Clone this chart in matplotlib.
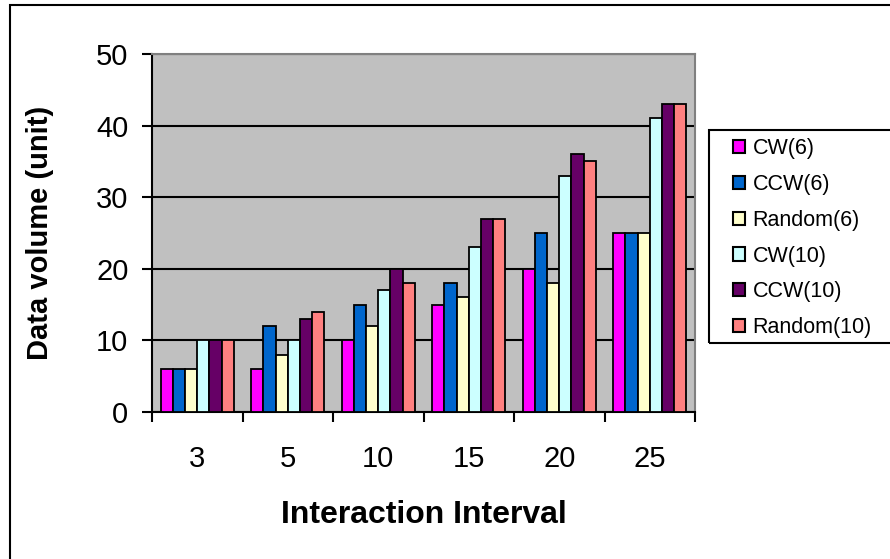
import matplotlib
matplotlib.use("Agg")
import matplotlib.pyplot as plt
import numpy as np
from matplotlib.patches import Rectangle

plt.rcParams['font.family'] = ['Liberation Sans', 'DejaVu Sans']

categories = ["3", "5", "10", "15", "20", "25"]
series_names = ["CW(6)", "CCW(6)", "Random(6)", "CW(10)", "CCW(10)", "Random(10)"]
cw6 = [6, 6, 10, 15, 20, 25]
ccw6 = [6, 12, 15, 18, 25, 25]
random6 = [6, 8, 12, 16, 18, 25]
cw10 = [10, 10, 17, 23, 33, 41]
ccw10 = [10, 13, 20, 27, 36, 43]
random10 = [10, 14, 18, 27, 35, 43]
series = [cw6, ccw6, random6, cw10, ccw10, random10]
colors = ["#FF00FF", "#0066CC", "#FFFFCC", "#CCFFFF", "#660066", "#FF8080"]

W, H = 890, 559
fig = plt.figure(figsize=(W/100, H/100), dpi=100)
ax = fig.add_axes([152/W, 1-412/H, (695-152)/W, (412-54)/H])
ax.set_facecolor("#C0C0C0")

n = len(series)
x = np.arange(len(categories))
total = 0.81
w = total / n
for i, (vals, c, name) in enumerate(zip(series, colors, series_names)):
    ax.bar(x - total/2 + w * (i + 0.5), vals, width=w, color=c, edgecolor="black",
           linewidth=1.3, label=name, zorder=3)

ax.set_xlim(-0.5, len(categories) - 0.5)
ax.set_ylim(0, 50)
ax.set_yticks(range(0, 51, 10))
ax.yaxis.grid(True, color="black", linewidth=1.5, zorder=1)
ax.set_axisbelow(True)
ax.set_xticks(x)
ax.set_xticklabels(categories, fontsize=21)
ax.set_xticks(np.arange(-0.5, len(categories), 1), minor=True)
ax.tick_params(axis='x', which='major', length=0, pad=24)
ax.tick_params(axis='x', which='minor', length=7, width=1.5, direction='out')
ax.tick_params(axis='y', labelsize=21, length=7, width=1.5, direction='out', pad=10)
for s in ["left", "bottom"]:
    ax.spines[s].set_linewidth(1.5)
    ax.spines[s].set_color("black")
for s in ["top", "right"]:
    ax.spines[s].set_color("#808080")
    ax.spines[s].set_linewidth(1.5)

ax.set_xlabel("Interaction Interval", fontsize=23, fontweight='bold', labelpad=19)
ax.set_ylabel("Data volume (unit)", fontsize=21, fontweight='bold', labelpad=30)

leg = fig.legend(loc="upper left", bbox_to_anchor=(733/W, 1-138/H), fontsize=15.5,
                 frameon=False, handlelength=0.56, handleheight=0.56, handletextpad=0.35,
                 labelspacing=0.69, borderpad=0, borderaxespad=0)
for h in leg.legend_handles:
    h.set_linewidth(1.5)

fig.patches.append(Rectangle((709/W, 1-343/H), (900-709)/W, (343-130)/H, transform=fig.transFigure,
                             fill=False, edgecolor="black", linewidth=1.5))
fig.patches.append(Rectangle((10/W, -0.01), 1, 1 - 5/H + 0.01, transform=fig.transFigure,
                             fill=False, edgecolor="black", linewidth=1.5))

fig.savefig("out.png", dpi=100)
